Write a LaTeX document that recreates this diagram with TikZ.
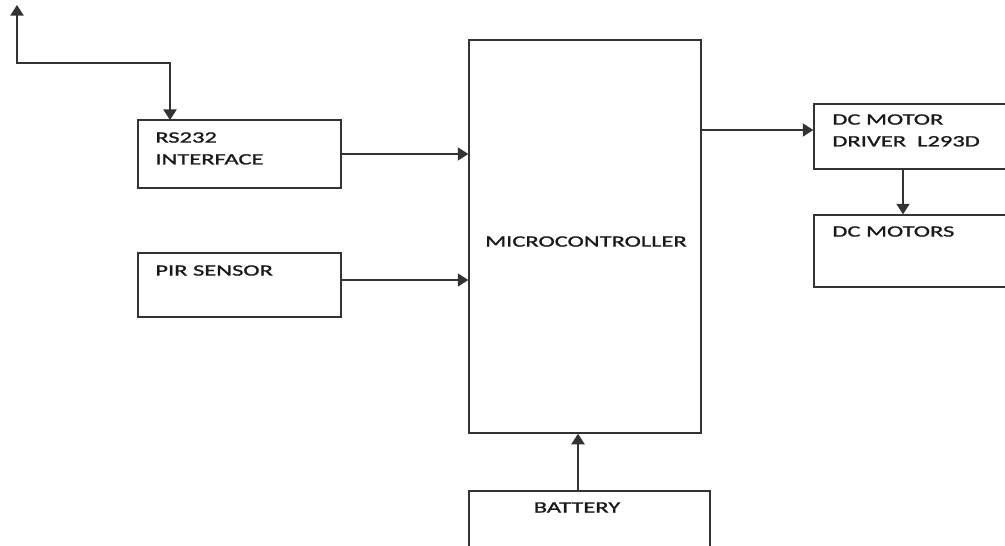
\documentclass[tikz,border=0pt]{standalone}
\usepackage{fontspec}
\newfontfamily\blockfont[FakeStretch=1.55, FakeBold=1.2]{Carlito}
\usetikzlibrary{arrows.meta}
\tikzset{
    block/.style={draw=black!80, line width=0.8pt, shape=rectangle, inner sep=0pt},
    blocktext/.style={inner sep=0pt, text=black!90, font=\blockfont\fontsize{9}{12.4}\selectfont},
    wire/.style={draw=black!80, line width=0.8pt, -{Triangle[width=7.5pt,length=6pt]}}
}
\begin{document}
\begin{tikzpicture}
        	% Frame of the picture:
        	\useasboundingbox (0,0) rectangle (20.1,-10.9);
        	\clip (0,0) rectangle (20.1,-10.9);
        	% Blocks:
        	\node[block, minimum width=4.06cm, minimum height=1.36cm](rs) at (4.79,-3.08){};
        	\node[block, minimum width=4.06cm, minimum height=1.28cm](pir) at (4.79,-5.70){};
        	\node[block, minimum width=4.64cm, minimum height=7.86cm](mcu) at (11.70,-4.73){};
        	\node[block, minimum width=4.02cm, minimum height=1.30cm](drv) at (18.29,-2.73){};
        	\node[block, minimum width=4.02cm, minimum height=1.44cm](mot) at (18.29,-5.02){};
        	\node[block, minimum width=4.82cm, minimum height=1.38cm](bat) at (11.79,-10.51){};
        	% Texts:
        	\node[blocktext, anchor=north west, align=left](rstxt) at (3.10,-2.64){RS232\\INTERFACE};
        	\node[blocktext, anchor=north west](pirtxt) at (3.10,-5.30){PIR SENSOR};
        	\node[blocktext, anchor=north](mcutxt) at (11.72,-4.72){MICROCONTROLLER};
        	\node[blocktext, anchor=north west, align=left](drvtxt) at (16.64,-2.28){DC MOTOR\\DRIVER\ \ L293D};
        	\node[blocktext, anchor=north west](mottxt) at (16.64,-4.52){DC MOTORS};
        	\node[blocktext, anchor=north](battxt) at (11.54,-10.04){BATTERY};
        	% Antenna line:
        	\coordinate (ant) at (0.34,-0.10);
        	\coordinate (bend) at (0.34,-1.26);
        	\coordinate (tap) at (3.40,-2.40);
        	\draw[wire, {Triangle[width=7.5pt,length=6pt]}-{Triangle[width=7.5pt,length=6pt]}] (ant) -- (bend) -| (tap);
        	% Connections:
        	\draw[wire] (rs.east) -- (rs.east -| mcu.west);
        	\draw[wire] ([yshift=0.1cm]pir.east) -- ([yshift=0.1cm]pir.east -| mcu.west);
        	\draw[wire] ([yshift=0.13cm]drv.west -| mcu.east) -- ([yshift=0.13cm]drv.west);
        	\draw[wire] ([xshift=-0.23cm]drv.south) -- ([xshift=-0.23cm]drv.south |- mot.north);
        	\draw[wire] ([xshift=-0.23cm]bat.north) -- ([xshift=-0.23cm]bat.north |- mcu.south);
\end{tikzpicture}
\end{document}
